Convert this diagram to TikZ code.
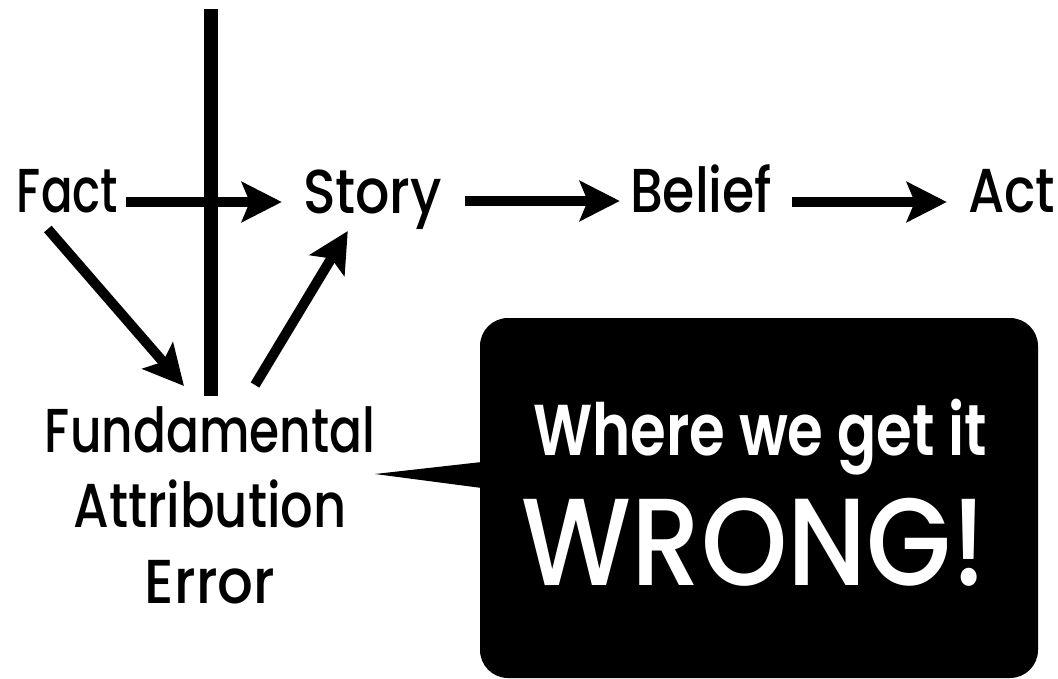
\documentclass[tikz,border=0pt]{standalone}
\usepackage{fontspec}
\usepackage{graphicx}
\usetikzlibrary{arrows.meta,calc}
\newfontfamily\popm{Poppins Medium}
\newfontfamily\pops{Poppins SemiBold}
\newcommand\fitw[2]{\resizebox{#1}{\height}{#2}}
\begin{document}
\begin{tikzpicture}[x=1pt,y=-1pt,
  lbl/.style={inner sep=0pt, anchor=base, font=\popm\fontsize{62}{75.5}\selectfont},
  arr/.style={line width=10pt, -{Stealth[length=40pt,width=40pt,inset=8pt]}},
  callout/.style={fill=black, rounded corners=28pt, inner sep=0pt, minimum width=558pt, minimum height=360pt},
  wtxt/.style={inner sep=0pt, anchor=base, text=white},
]
\fill[white] (0,0) rectangle (1058,679);
\useasboundingbox (0,0) rectangle (1058,679);

\node[lbl] (fact) at (67.5,213) {\fitw{101pt}{Fact}};
\node[lbl] (story) at (372.5,214) {\fitw{139pt}{Story}};
\node[lbl] (belief) at (701,213) {\fitw{142pt}{Belief}};
\node[lbl] (act) at (1011.5,213) {\fitw{87pt}{Act}};
\node[lbl, align=center] (fae) at (210,603) {\fitw{330pt}{Fundamental}\\\fitw{273pt}{Attribution}\\\fitw{130pt}{Error}};

\coordinate (bartop) at (211,9);
\coordinate (barbot) at (211,396);
\draw[line width=14pt] (bartop) -- (barbot);

\draw[arr] ($(fact.base east)+(8,-11)$) -- ($(story.base west)+(-21,-12)$);
\draw[arr] ($(story.base east)+(23,-13)$) -- ($(belief.base west)+(-10,-12)$);
\draw[arr] ($(belief.base east)+(20,-11)$) -- ($(act.base west)+(-21,-11)$);
\draw[arr] ($(fact.base west)+(31,16)$) -- ($(fae.base)+(-26,-217)$);
\draw[arr] ($(fae.base)+(45,-218)$) -- ($(story.base west)+(45,17)$);

\node[callout] (box) at (759,498) {};
\coordinate (tip) at (375,474);
\fill ($(box.west)+(2,-36)$) -- (tip) -- ($(box.west)+(2,-10)$) -- cycle;
\node[wtxt, font=\pops\fontsize{72}{72}\selectfont] (where) at (760,455) {\fitw{454pt}{Where we get it}};
\node[wtxt, font=\popm\fontsize{124}{124}\selectfont] (wrong) at (754.5,585) {\fitw{465pt}{WRONG!}};
\end{tikzpicture}
\end{document}
